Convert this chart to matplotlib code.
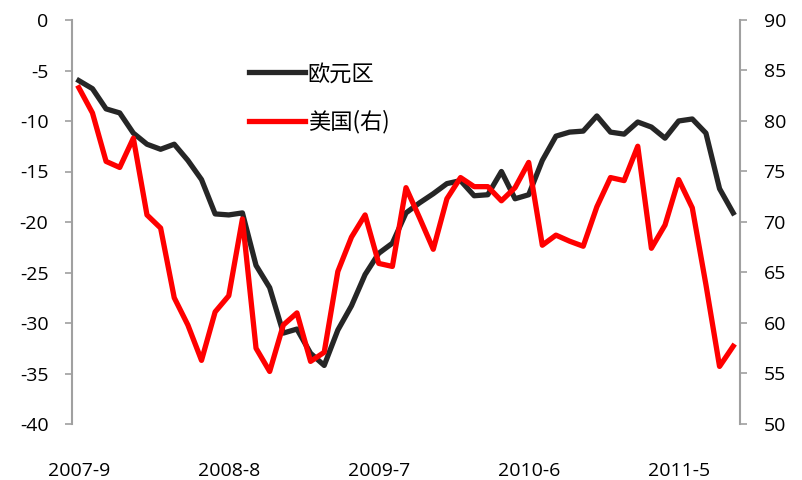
import matplotlib.pyplot as plt
import numpy as np

plt.rcParams['font.family'] = ['Open Sans', 'Noto Sans CJK SC', 'DejaVu Sans']
plt.rcParams['axes.unicode_minus'] = False

# 月度数据 2007-9 至 2011-9
months = ['2007-9', '2007-10', '2007-11', '2007-12', '2008-1', '2008-2', '2008-3',
          '2008-4', '2008-5', '2008-6', '2008-7', '2008-8', '2008-9', '2008-10',
          '2008-11', '2008-12', '2009-1', '2009-2', '2009-3', '2009-4', '2009-5',
          '2009-6', '2009-7', '2009-8', '2009-9', '2009-10', '2009-11', '2009-12',
          '2010-1', '2010-2', '2010-3', '2010-4', '2010-5', '2010-6', '2010-7',
          '2010-8', '2010-9', '2010-10', '2010-11', '2010-12', '2011-1', '2011-2',
          '2011-3', '2011-4', '2011-5', '2011-6', '2011-7', '2011-8', '2011-9']

euro = [-6.0, -6.8, -8.8, -9.2, -11.2, -12.3, -12.8, -12.3, -13.9, -15.8,
        -19.2, -19.3, -19.1, -24.3, -26.5, -31.0, -30.6, -33.0, -34.2, -30.7,
        -28.3, -25.2, -23.1, -22.1, -19.1, -18.1, -17.2, -16.2, -15.9, -17.4,
        -17.3, -15.0, -17.7, -17.3, -13.9, -11.5, -11.1, -11.0, -9.5, -11.1,
        -11.3, -10.1, -10.6, -11.7, -10.0, -9.8, -11.2, -16.7, -19.1]

us = [83.3, 80.8, 76.0, 75.4, 78.3, 70.7, 69.4, 62.5, 59.8, 56.3,
      61.1, 62.7, 70.3, 57.5, 55.2, 59.8, 61.0, 56.2, 57.1, 65.1,
      68.5, 70.7, 65.9, 65.6, 73.4, 70.4, 67.3, 72.3, 74.4, 73.5,
      73.5, 72.1, 73.4, 75.9, 67.7, 68.7, 68.1, 67.6, 71.5, 74.4,
      74.1, 77.5, 67.4, 69.7, 74.2, 71.4, 63.8, 55.7, 57.7]

x = np.arange(len(months))
tick_idx = [0, 11, 22, 33, 44]

fig = plt.figure(figsize=(8.02, 4.80), dpi=100)
ax = fig.add_axes([72 / 802, 1 - 424 / 480, (740 - 72) / 802, (424 - 20) / 480])
ax2 = ax.twinx()

l1, = ax.plot(x, euro, color='#262626', lw=3.8, solid_joinstyle='round', label='欧元区')
l2, = ax2.plot(x, us, color='#ff0000', lw=3.8, solid_joinstyle='round', label='美国(右)')

ax.set_xlim(-0.5, len(months) - 0.5)
ax.set_ylim(-40, 0)
ax2.set_ylim(50, 90)
ax.set_yticks(np.arange(-40, 1, 5))
ax2.set_yticks(np.arange(50, 91, 5))
ax.set_xticks(tick_idx)
ax.set_xticklabels([months[i] for i in tick_idx])

# 只保留左右两条灰色纵轴
for a in (ax, ax2):
    for s in ('top', 'bottom'):
        a.spines[s].set_visible(False)
    a.spines['left'].set_visible(a is ax)
    a.spines['right'].set_visible(a is ax2)
    a.spines['left'].set_color('#a0a0a0')
    a.spines['right'].set_color('#a0a0a0')
    a.spines['left'].set_linewidth(1.5)
    a.spines['right'].set_linewidth(1.5)
    a.tick_params(axis='y', length=5, width=1.2, color='#a0a0a0',
                  labelsize=14, pad=12)

ax.tick_params(axis='x', length=0, labelsize=14, pad=27)

ax.legend(handles=[l1, l2], loc='upper left', bbox_to_anchor=(0.235, 0.945),
          frameon=False, handlelength=2.5, handletextpad=0.15,
          labelspacing=1.1, prop={'family': ['Noto Sans CJK SC', 'DejaVu Sans'], 'size': 16})

fig.savefig('out.png', dpi=100)
